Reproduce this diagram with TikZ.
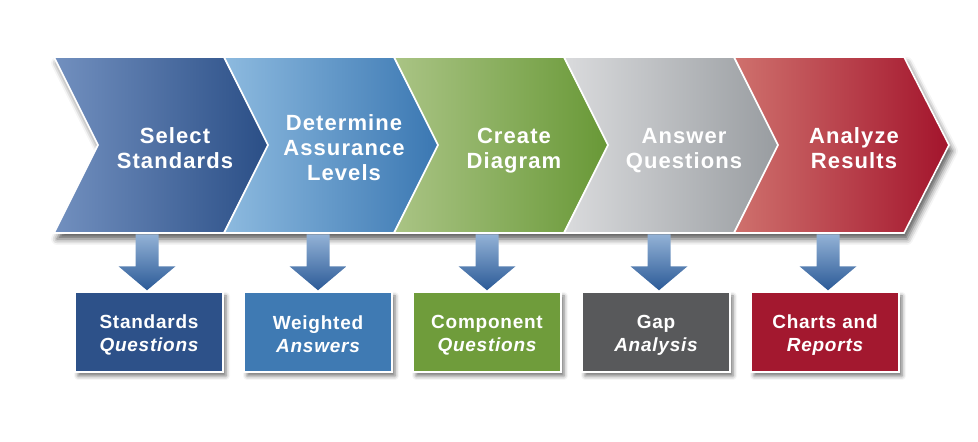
\documentclass[tikz,border=0pt]{standalone}
\usepackage{fontspec}
\setmainfont{Liberation Sans}
\usetikzlibrary{shadows.blur,calc}
\definecolor{cA1}{HTML}{7290BF}\definecolor{cA2}{HTML}{2A4E86}
\definecolor{cB1}{HTML}{8DBADF}\definecolor{cB2}{HTML}{3A77B2}
\definecolor{cC1}{HTML}{AAC485}\definecolor{cC2}{HTML}{689836}
\definecolor{cD1}{HTML}{DADBDD}\definecolor{cD2}{HTML}{989CA0}
\definecolor{cE1}{HTML}{CF716D}\definecolor{cE2}{HTML}{A3142C}
\definecolor{bA}{HTML}{2D5189}\definecolor{bB}{HTML}{3F7AB3}
\definecolor{bC}{HTML}{6F9C3B}\definecolor{bD}{HTML}{58595B}
\definecolor{bE}{HTML}{A3182F}
\definecolor{arrT}{HTML}{93B2D6}\definecolor{arrB}{HTML}{2B5A97}
\tikzset{
  chev/.style={draw=white, line width=1.6pt, line join=miter},
  ctext/.style={text=white, align=center, font=\fontsize{22}{25}\selectfont\bfseries\addfontfeatures{LetterSpace=5}},
  outbox/.style={draw=white, line width=1.4pt, minimum width=148pt, minimum height=80pt,
    inner sep=0pt, text=white, align=center, font=\fontsize{19}{23}\selectfont\bfseries\addfontfeatures{LetterSpace=4},
    blur shadow={shadow xshift=3pt, shadow yshift=-4pt, shadow blur radius=4pt, shadow opacity=55}},
  downarrow/.style={top color=arrT, bottom color=arrB, draw=none}
}
\begin{document}
\begin{tikzpicture}[x=1pt,y=1pt]
\useasboundingbox (0,0) rectangle (978,442);
% band shadow
\fill[white, blur shadow={shadow xshift=3pt, shadow yshift=-6pt, shadow blur radius=6pt, shadow opacity=65}]
  (54,385) -- (904,385) -- (949,297) -- (904,209) -- (54,209) -- (98,297) -- cycle;
% boxes
\node[outbox, fill=bA] (b1) at (149,110) {};
\node[outbox, fill=bB] (b2) at (318,110) {};
\node[outbox, fill=bC] (b3) at (487,110) {};
\node[outbox, fill=bD] (b4) at (656,110) {};
\node[outbox, fill=bE] (b5) at (825,110) {};
\node[text=white, align=center, font=\fontsize{19}{23}\selectfont\bfseries\addfontfeatures{LetterSpace=4}] (l1) at (149,107) {Standards\\\itshape Questions};
\node[text=white, align=center, font=\fontsize{19}{23}\selectfont\bfseries\addfontfeatures{LetterSpace=4}] (l2) at (318,108) {Weighted\\\itshape Answers};
\node[text=white, align=center, font=\fontsize{19}{23}\selectfont\bfseries\addfontfeatures{LetterSpace=4}] (l3) at (487,107) {Component\\\itshape Questions};
\node[text=white, align=center, font=\fontsize{19}{23}\selectfont\bfseries\addfontfeatures{LetterSpace=4}] (l4) at (656,107) {Gap\\\itshape Analysis};
\node[text=white, align=center, font=\fontsize{19}{23}\selectfont\bfseries\addfontfeatures{LetterSpace=4}] (l5) at (825,107) {Charts and\\\itshape Reports};
% chevrons
\foreach \x/\ca/\cb in {54/cA1/cA2, 224/cB1/cB2, 394/cC1/cC2, 564/cD1/cD2, 734/cE1/cE2}{
  \path[chev, left color=\ca, right color=\cb]
    (\x,385) -- (\x+170,385) -- (\x+215,297) -- (\x+170,209) -- (\x,209) -- (\x+44,297) -- cycle;
}
\node[ctext] (c1) at (175,294) {Select\\Standards};
\node[ctext] (c2) at (344,294) {Determine\\Assurance\\Levels};
\node[ctext] (c3) at (514,291) {Create\\Diagram};
\node[ctext] (c4) at (684,291) {Answer\\Questions};
\node[ctext] (c5) at (854,294) {Analyze\\Results};
% arrows from band to boxes
\foreach \i/\dx in {1/-2, 2/0, 3/0, 4/3, 5/3}{
  \path[downarrow]
    ($(b\i.north)+(\dx-11.5,57)$) -- ($(b\i.north)+(\dx+11.5,57)$) -- ($(b\i.north)+(\dx+11.5,25)$)
    -- ($(b\i.north)+(\dx+28.5,25)$) -- ($(b\i.north)+(\dx,1)$) -- ($(b\i.north)+(\dx-28.5,25)$)
    -- ($(b\i.north)+(\dx-11.5,25)$) -- cycle;
}
\end{tikzpicture}
\end{document}
